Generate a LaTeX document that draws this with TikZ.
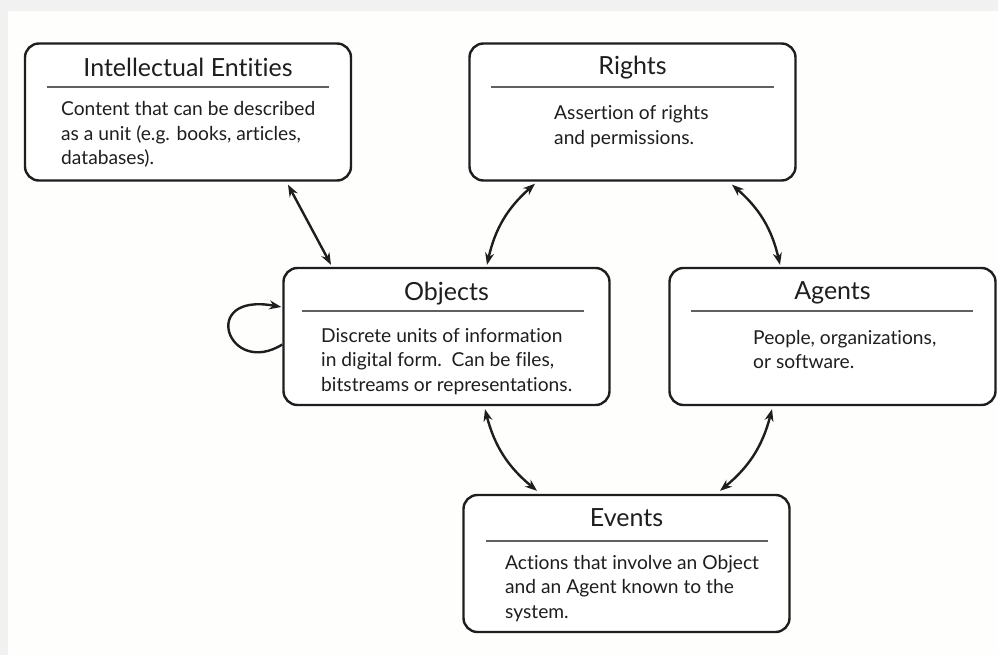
\documentclass[tikz,border=0pt]{standalone}
\usepackage{fontspec}
\setmainfont{Lato}[RawFeature=-liga]
\usetikzlibrary{arrows.meta,calc}
\definecolor{ink}{HTML}{1E1E1E}
\definecolor{rulec}{HTML}{606060}
\definecolor{bggray}{HTML}{F1F1F1}
\definecolor{paper}{HTML}{FEFEFC}
\newcommand\bodylines[1]{\vtop{\baselineskip=24.5pt #1}}
\newcommand\bline[1]{\hbox{#1}}
\begin{document}
\begin{tikzpicture}[x=1pt,y=-1pt,
  box/.style={draw=ink,line width=2.4pt,rounded corners=14pt,inner sep=0pt,
              minimum height=137pt,minimum width=326pt,fill=white},
  title/.style={anchor=base,font=\fontsize{25}{28}\selectfont,text=ink,inner sep=0pt},
  body/.style={anchor=base west,font=\fontsize{19.2}{24}\selectfont,text=ink,inner sep=0pt},
  rulel/.style={draw=rulec,line width=1.7pt},
  link/.style={{Stealth[length=12pt,width=9pt]}-{Stealth[length=12pt,width=9pt]},
               line width=2.4pt,draw=ink},
  loop/.style={-{Stealth[length=12pt,width=9pt]},line width=2.4pt,draw=ink}]
\useasboundingbox (0,0) rectangle (998,655);
\fill[bggray] (0,0) rectangle (998,655);
\fill[paper] (8,11) rectangle (998,655);

% boxes
\node[box] (ie) at (188,112) {};
\node[box] (rights) at (632.5,112) {};
\node[box] (obj) at (446.5,336.5) {};
\node[box] (agents) at (832.5,336.5) {};
\node[box] (events) at (626.5,563.5) {};

% rules
\draw[rulel] ($(ie.north west)+(23,45)$) -- ($(ie.north east)+(-23,45)$);
\draw[rulel] ($(rights.north west)+(23,45)$) -- ($(rights.north east)+(-23,45)$);
\draw[rulel] ($(obj.north west)+(20,44)$) -- ($(obj.north east)+(-27,44)$);
\draw[rulel] ($(agents.north west)+(23,44)$) -- ($(agents.north east)+(-24,44)$);
\draw[rulel] ($(events.north west)+(24,47)$) -- ($(events.north east)+(-23,47)$);

% titles
\node[title] (ieT) at (188,77) {Intellectual Entities};
\node[title] (rightsT) at (632.5,75) {Rights};
\node[title] (objT) at (446.5,300) {Objects};
\node[title] (agentsT) at (832.5,299) {Agents};
\node[title] (eventsT) at (626.5,526) {Events};

% bodies
\node[body] (ieB) at (61,116) {\bodylines{\bline{Content that can be described}\bline{as a unit (e.g. books, articles,}\bline{databases).}}};
\node[body] (rightsB) at (554,120) {\bodylines{\bline{Assertion of rights}\bline{and permissions.}}};
\node[body] (objB) at (321,342) {\bodylines{\bline{Discrete units of information}\bline{in digital form.\ \ Can be files,}\bline{bitstreams or representations.}}};
\node[body] (agentsB) at (753,344) {\bodylines{\bline{People, organizations,}\bline{or software.}}};
\node[body] (eventsB) at (505,569) {\bodylines{\bline{Actions that involve an Object}\bline{and an Agent known to the}\bline{system.}}};

% connectors
\draw[link] ([xshift=100pt,yshift=-3pt]ie.south) -- ([xshift=-115.5pt,yshift=2pt]obj.north);
\draw[link] ([xshift=40.5pt,yshift=2pt]obj.north) to[bend left=18] ([xshift=-97.5pt,yshift=-2pt]rights.south);
\draw[link] ([xshift=99.5pt,yshift=-3pt]rights.south) to[bend left=18] ([xshift=-52.5pt,yshift=2pt]agents.north);
\draw[link] ([xshift=38.5pt,yshift=-3pt]obj.south) to[bend right=18] ([xshift=-89.5pt,yshift=3pt]events.north);
\draw[link] ([xshift=-60.5pt,yshift=-3pt]agents.south) to[bend left=18] ([xshift=93.5pt,yshift=3pt]events.north);
\draw[loop] ([yshift=-8pt]obj.west) .. controls (228,378) and (198,292) .. ([yshift=29.5pt,xshift=-1pt]obj.west);
\end{tikzpicture}
\end{document}
